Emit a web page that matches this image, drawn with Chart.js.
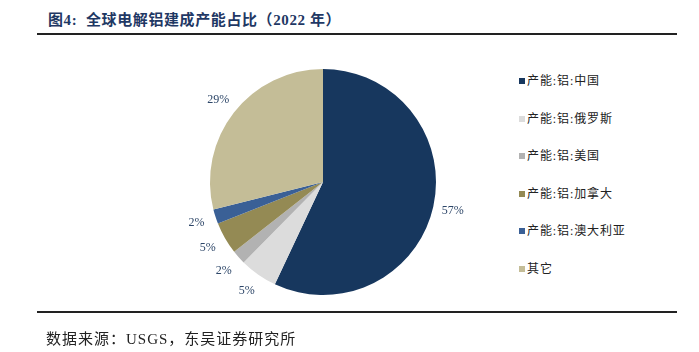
<!DOCTYPE html>
<html>
<head>
<meta charset="utf-8">
<script src="https://cdn.jsdelivr.net/npm/chart.js@4/dist/chart.umd.min.js"></script>
<style>
  body { margin: 0; background: #fff; }
  #wrap { position: relative; width: 699px; height: 352px; overflow: hidden; }
  #title { position: absolute; left: 48px; top: 8px; font: bold 15px "Liberation Serif", "Noto Sans CJK SC", serif; color: #1f3864; letter-spacing: 0.6px; white-space: nowrap; }
  .rule { position: absolute; left: 37px; width: 640px; height: 2px; background: #222; }
  #chart { position: absolute; left: 173px; top: 32px; }
  #legend { position: absolute; left: 519px; top: 0; }
  .item { position: absolute; left: 0; white-space: nowrap; font: 12px "Liberation Serif", "Noto Sans CJK SC", serif; color: #222; letter-spacing: 0.9px; }
  .item i { display: inline-block; width: 6px; height: 6px; margin-right: 2px; vertical-align: 1px; }
  #source { position: absolute; left: 46px; top: 327px; font: 15px "Liberation Serif", "Noto Sans CJK SC", serif; color: #222; white-space: nowrap; letter-spacing: 1px; }
</style>
</head>
<body>
<div id="wrap">
  <div id="title">图4:&nbsp;&nbsp;全球电解铝建成产能占比（2022 年）</div>
  <div class="rule" style="top:33px"></div>
  <canvas id="chart" width="300" height="300"></canvas>
  <div id="legend"></div>
  <div class="rule" style="top:311px"></div>
  <div id="source">数据来源：USGS，东吴证券研究所</div>
</div>
<script>
// share of global built aluminium capacity, 2022
const categories = ['产能:铝:中国', '产能:铝:俄罗斯', '产能:铝:美国', '产能:铝:加拿大', '产能:铝:澳大利亚', '其它'];
const shares = [57.0, 5.4, 2.0, 4.6, 2.1, 28.9];
const colors = ['#17375e', '#dcdcdc', '#b2b2b2', '#948a54', '#3a6096', '#c4bd97'];

// legend
const legendBox = document.getElementById('legend');
categories.forEach((name, i) => {
  const div = document.createElement('div');
  div.className = 'item';
  div.style.top = (71 + i * 37.6) + 'px';
  div.innerHTML = '<i style="background:' + colors[i] + '"></i>' + name;
  legendBox.appendChild(div);
});

// percent labels outside the slices
const outsideLabels = {
  id: 'outsideLabels',
  afterDatasetsDraw(chart) {
    const ctx = chart.ctx;
    const arcs = chart.getDatasetMeta(0).data;
    ctx.save();
    ctx.font = '12px "Liberation Serif", serif';
    ctx.fillStyle = '#2d4668';
    ctx.textAlign = 'center';
    ctx.textBaseline = 'middle';
    arcs.forEach((arc, i) => {
      const mid = (arc.startAngle + arc.endAngle) / 2;
      const r = arc.outerRadius + 20;
      ctx.fillText(Math.round(shares[i]) + '%', arc.x + Math.cos(mid) * r, arc.y + Math.sin(mid) * r);
    });
    ctx.restore();
  }
};

new Chart(document.getElementById('chart'), {
  type: 'pie',
  data: {
    labels: categories,
    datasets: [{
      data: shares,
      backgroundColor: colors,
      borderWidth: 0
    }]
  },
  options: {
    responsive: false,
    animation: false,
    radius: 113,
    layout: { padding: 0 },
    plugins: {
      legend: { display: false },
      tooltip: { enabled: false }
    }
  },
  plugins: [outsideLabels]
});
</script>
</body>
</html>
